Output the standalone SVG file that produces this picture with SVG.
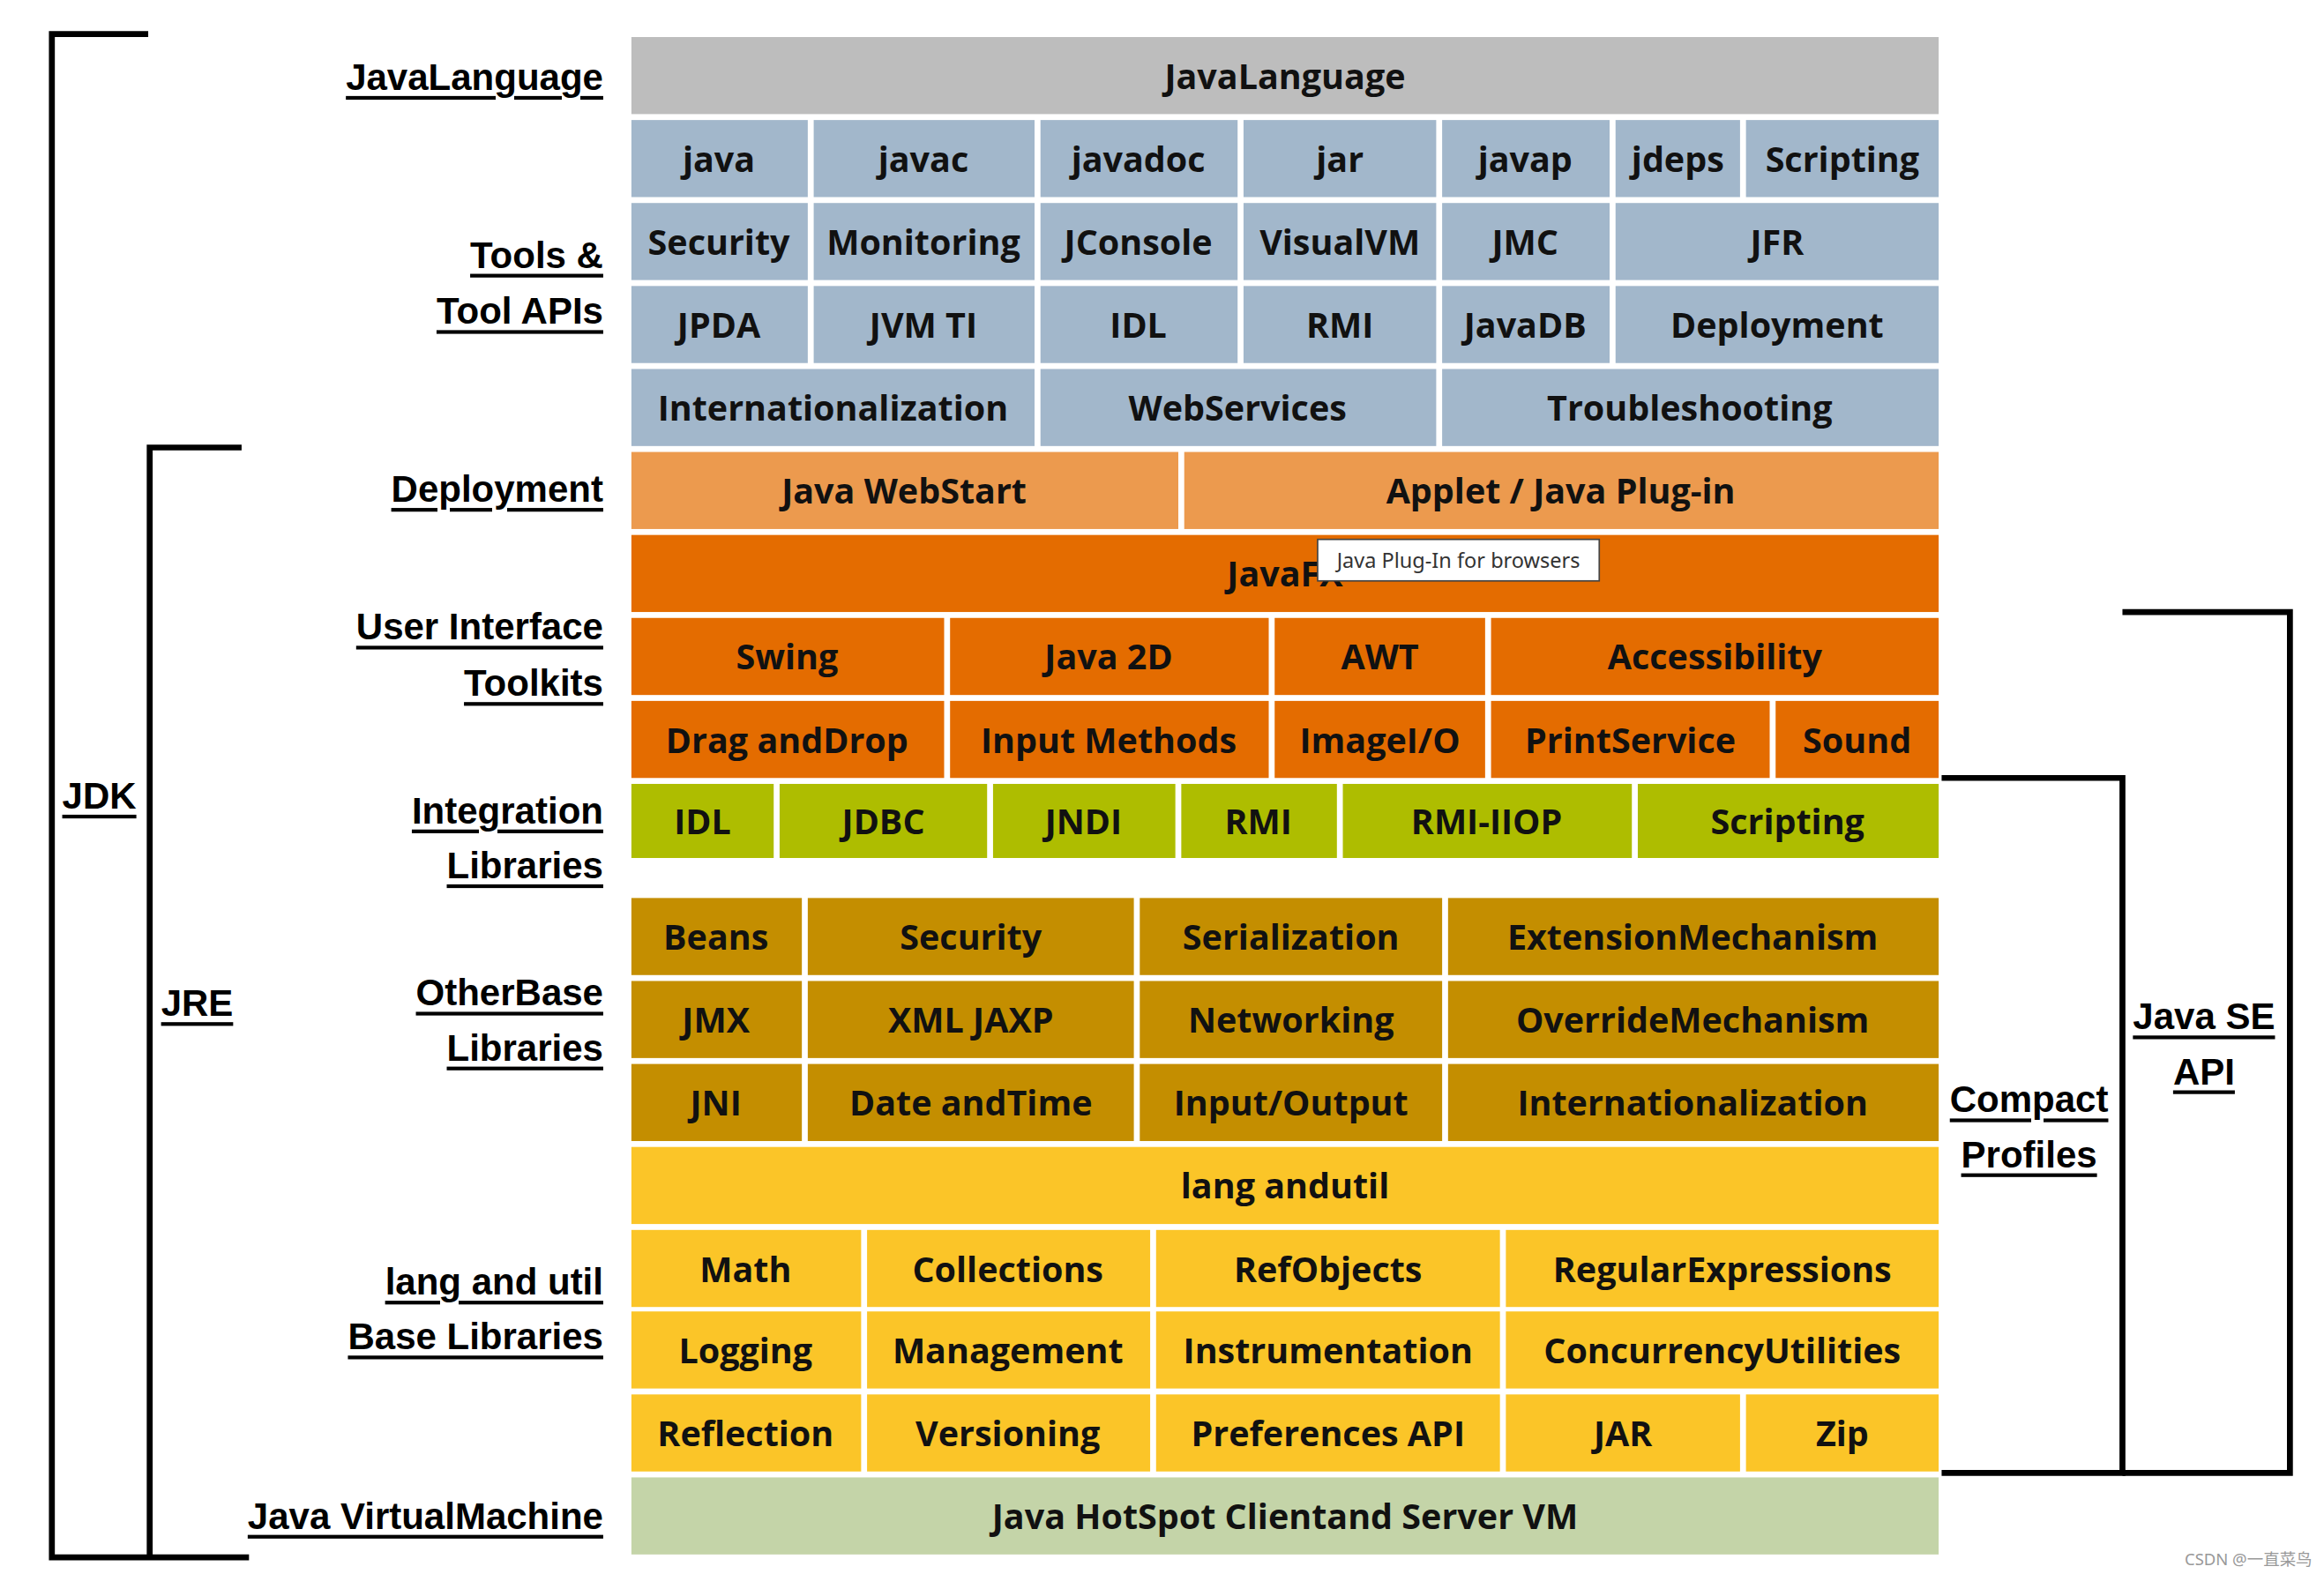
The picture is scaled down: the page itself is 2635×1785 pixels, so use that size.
<svg xmlns="http://www.w3.org/2000/svg" width="2635" height="1785" viewBox="0 0 2635 1785">
<style>
.c text{font-family:"Open Sans","Noto Sans",sans-serif;font-weight:bold;font-size:23.5px;fill:#111;text-anchor:middle;dominant-baseline:central}
.l{font-family:"Liberation Sans",Arial,sans-serif;font-weight:bold;font-size:25px;fill:#000;text-decoration:underline;dominant-baseline:central}
.r{text-anchor:end}.m{text-anchor:middle}
.br{fill:none;stroke:#000;stroke-width:4}
.g{fill:#bdbdbd}.b{fill:#a2b7cb}.lo{fill:#ec9a4e}.o{fill:#e46c00}.gr{fill:#aebd00}.d{fill:#c48e00}.y{fill:#fbc528}.v{fill:#c4d4a8}
</style>
<rect width="2635" height="1785" fill="#fff"/>
<g transform="scale(1.6805)">
<g id="connectors">
<path class="br" d="M100,23H35V1051H168"/>
<path class="br" d="M163,302H101V1051"/>
<path class="br" d="M1310,525H1432V994H1310"/>
<path class="br" d="M1432,413H1545V994H1432"/>
</g>
<g id="labels">
<text class="l m" x="67" y="537">JDK</text>
<text class="l m" x="133" y="677">JRE</text>
<text class="l m" x="1369" y="742">Compact</text><text class="l m" x="1369" y="779">Profiles</text>
<text class="l m" x="1487" y="686">Java SE</text><text class="l m" x="1487" y="723">API</text>
<text class="l r" x="407" y="52">JavaLanguage</text>
<text class="l r" x="407" y="172">Tools &amp;</text><text class="l r" x="407" y="210">Tool APIs</text>
<text class="l r" x="407" y="330">Deployment</text>
<text class="l r" x="407" y="423">User Interface</text><text class="l r" x="407" y="461">Toolkits</text>
<text class="l r" x="407" y="547">Integration</text><text class="l r" x="407" y="584">Libraries</text>
<text class="l r" x="407" y="670">OtherBase</text><text class="l r" x="407" y="707">Libraries</text>
<text class="l r" x="407" y="865">lang and util</text><text class="l r" x="407" y="902">Base Libraries</text>
<text class="l r" x="407" y="1023">Java VirtualMachine</text>
</g>
<g id="nodes" class="c">
<g id="n-lang"><rect class="g" x="426" y="25" width="882" height="52"/><text x="867" y="51">JavaLanguage</text></g>
<g id="t1">
<rect class="b" x="426" y="81" width="119" height="52"/><text x="485" y="107">java</text>
<rect class="b" x="549" y="81" width="149" height="52"/><text x="623" y="107">javac</text>
<rect class="b" x="702" y="81" width="133" height="52"/><text x="768" y="107">javadoc</text>
<rect class="b" x="839" y="81" width="130" height="52"/><text x="904" y="107">jar</text>
<rect class="b" x="973" y="81" width="113" height="52"/><text x="1029" y="107">javap</text>
<rect class="b" x="1090" y="81" width="84" height="52"/><text x="1132" y="107">jdeps</text>
<rect class="b" x="1178" y="81" width="130" height="52"/><text x="1243" y="107">Scripting</text>
</g>
<g id="t2">
<rect class="b" x="426" y="137" width="119" height="52"/><text x="485" y="163">Security</text>
<rect class="b" x="549" y="137" width="149" height="52"/><text x="623" y="163">Monitoring</text>
<rect class="b" x="702" y="137" width="133" height="52"/><text x="768" y="163">JConsole</text>
<rect class="b" x="839" y="137" width="130" height="52"/><text x="904" y="163">VisualVM</text>
<rect class="b" x="973" y="137" width="113" height="52"/><text x="1029" y="163">JMC</text>
<rect class="b" x="1090" y="137" width="218" height="52"/><text x="1199" y="163">JFR</text>
</g>
<g id="t3">
<rect class="b" x="426" y="193" width="119" height="52"/><text x="485" y="219">JPDA</text>
<rect class="b" x="549" y="193" width="149" height="52"/><text x="623" y="219">JVM TI</text>
<rect class="b" x="702" y="193" width="133" height="52"/><text x="768" y="219">IDL</text>
<rect class="b" x="839" y="193" width="130" height="52"/><text x="904" y="219">RMI</text>
<rect class="b" x="973" y="193" width="113" height="52"/><text x="1029" y="219">JavaDB</text>
<rect class="b" x="1090" y="193" width="218" height="52"/><text x="1199" y="219">Deployment</text>
</g>
<g id="t4">
<rect class="b" x="426" y="249" width="272" height="52"/><text x="562" y="275">Internationalization</text>
<rect class="b" x="702" y="249" width="267" height="52"/><text x="835" y="275">WebServices</text>
<rect class="b" x="973" y="249" width="335" height="52"/><text x="1140" y="275">Troubleshooting</text>
</g>
<g id="dep">
<rect class="lo" x="426" y="305" width="369" height="52"/><text x="610" y="331">Java WebStart</text>
<rect class="lo" x="799" y="305" width="509" height="52"/><text x="1053" y="331">Applet / Java Plug-in</text>
</g>
<g id="fx"><rect class="o" x="426" y="361" width="882" height="52"/><text x="867" y="387">JavaFX</text></g>
<g id="ui1">
<rect class="o" x="426" y="417" width="211" height="52"/><text x="531" y="443">Swing</text>
<rect class="o" x="641" y="417" width="215" height="52"/><text x="748" y="443">Java 2D</text>
<rect class="o" x="860" y="417" width="142" height="52"/><text x="931" y="443">AWT</text>
<rect class="o" x="1006" y="417" width="302" height="52"/><text x="1157" y="443">Accessibility</text>
</g>
<g id="ui2">
<rect class="o" x="426" y="473" width="211" height="52"/><text x="531" y="499">Drag andDrop</text>
<rect class="o" x="641" y="473" width="215" height="52"/><text x="748" y="499">Input Methods</text>
<rect class="o" x="860" y="473" width="142" height="52"/><text x="931" y="499">ImageI/O</text>
<rect class="o" x="1006" y="473" width="188" height="52"/><text x="1100" y="499">PrintService</text>
<rect class="o" x="1198" y="473" width="110" height="52"/><text x="1253" y="499">Sound</text>
</g>
<g id="int">
<rect class="gr" x="426" y="529" width="96" height="50"/><text x="474" y="554">IDL</text>
<rect class="gr" x="526" y="529" width="140" height="50"/><text x="596" y="554">JDBC</text>
<rect class="gr" x="670" y="529" width="123" height="50"/><text x="731" y="554">JNDI</text>
<rect class="gr" x="797" y="529" width="105" height="50"/><text x="849" y="554">RMI</text>
<rect class="gr" x="906" y="529" width="195" height="50"/><text x="1003" y="554">RMI-IIOP</text>
<rect class="gr" x="1105" y="529" width="203" height="50"/><text x="1206" y="554">Scripting</text>
</g>
<g id="ob1">
<rect class="d" x="426" y="606" width="115" height="52"/><text x="483" y="632">Beans</text>
<rect class="d" x="545" y="606" width="220" height="52"/><text x="655" y="632">Security</text>
<rect class="d" x="769" y="606" width="204" height="52"/><text x="871" y="632">Serialization</text>
<rect class="d" x="977" y="606" width="331" height="52"/><text x="1142" y="632">ExtensionMechanism</text>
</g>
<g id="ob2">
<rect class="d" x="426" y="662" width="115" height="52"/><text x="483" y="688">JMX</text>
<rect class="d" x="545" y="662" width="220" height="52"/><text x="655" y="688">XML JAXP</text>
<rect class="d" x="769" y="662" width="204" height="52"/><text x="871" y="688">Networking</text>
<rect class="d" x="977" y="662" width="331" height="52"/><text x="1142" y="688">OverrideMechanism</text>
</g>
<g id="ob3">
<rect class="d" x="426" y="718" width="115" height="52"/><text x="483" y="744">JNI</text>
<rect class="d" x="545" y="718" width="220" height="52"/><text x="655" y="744">Date andTime</text>
<rect class="d" x="769" y="718" width="204" height="52"/><text x="871" y="744">Input/Output</text>
<rect class="d" x="977" y="718" width="331" height="52"/><text x="1142" y="744">Internationalization</text>
</g>
<g id="lu"><rect class="y" x="426" y="774" width="882" height="52"/><text x="867" y="800">lang andutil</text></g>
<g id="lu1">
<rect class="y" x="426" y="830" width="155" height="52"/><text x="503" y="856">Math</text>
<rect class="y" x="585" y="830" width="191" height="52"/><text x="680" y="856">Collections</text>
<rect class="y" x="780" y="830" width="232" height="52"/><text x="896" y="856">RefObjects</text>
<rect class="y" x="1016" y="830" width="292" height="52"/><text x="1162" y="856">RegularExpressions</text>
</g>
<g id="lu2">
<rect class="y" x="426" y="885" width="155" height="52"/><text x="503" y="911">Logging</text>
<rect class="y" x="585" y="885" width="191" height="52"/><text x="680" y="911">Management</text>
<rect class="y" x="780" y="885" width="232" height="52"/><text x="896" y="911">Instrumentation</text>
<rect class="y" x="1016" y="885" width="292" height="52"/><text x="1162" y="911">ConcurrencyUtilities</text>
</g>
<g id="lu3">
<rect class="y" x="426" y="941" width="155" height="52"/><text x="503" y="967">Reflection</text>
<rect class="y" x="585" y="941" width="191" height="52"/><text x="680" y="967">Versioning</text>
<rect class="y" x="780" y="941" width="232" height="52"/><text x="896" y="967">Preferences API</text>
<rect class="y" x="1016" y="941" width="158" height="52"/><text x="1095" y="967">JAR</text>
<rect class="y" x="1178" y="941" width="130" height="52"/><text x="1243" y="967">Zip</text>
</g>
<g id="vm"><rect class="v" x="426" y="997" width="882" height="52"/><text x="867" y="1023">Java HotSpot Clientand Server VM</text></g>
</g>
<g id="tooltip">
<rect x="889" y="364" width="190" height="28" fill="#fff" stroke="#444" stroke-width="1"/>
<text x="984" y="378" font-family="'Noto Sans','Open Sans',sans-serif" font-size="14" fill="#333" text-anchor="middle" dominant-baseline="central">Java Plug-In for browsers</text>
</g>
<text x="1560" y="1052" font-family="'Noto Sans','Noto Sans CJK SC',sans-serif" font-size="11" fill="#999" text-anchor="end" dominant-baseline="central">CSDN @一直菜鸟</text>
</g>
</svg>
